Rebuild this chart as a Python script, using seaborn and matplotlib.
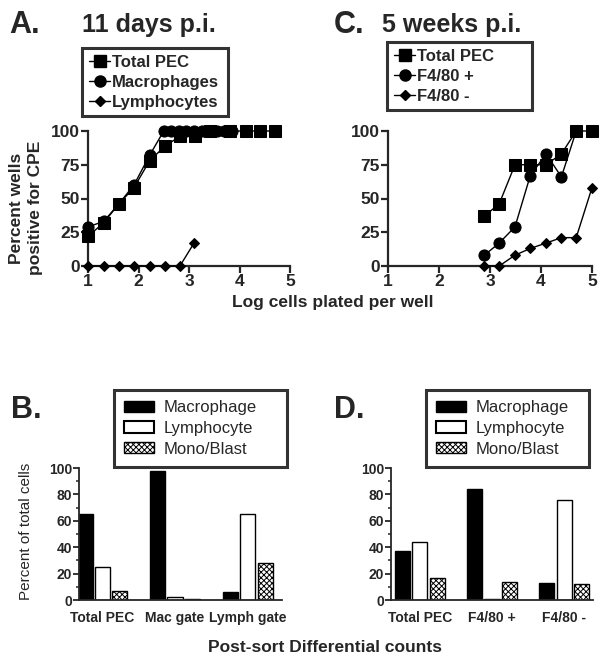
import numpy as np
import pandas as pd
import matplotlib
matplotlib.use("Agg")
import matplotlib.pyplot as plt
from matplotlib.lines import Line2D
from matplotlib.patches import Patch
import seaborn as sns

sns.set_style("ticks")
plt.rcParams["font.family"] = ["Liberation Sans", "DejaVu Sans"]
plt.rcParams["hatch.linewidth"] = 0.7

# ---------------- data ----------------
# Panel A: 11 days p.i.
a_pec_x = [1.0, 1.31, 1.61, 1.91, 2.22, 2.53, 2.82, 3.12, 3.41, 3.81, 4.12, 4.40, 4.70]
a_pec_y = [22, 32, 46, 58, 78, 89, 96, 96.5, 100, 100, 100, 100, 100]
a_mac_x = [1.0, 1.31, 1.61, 1.91, 2.22, 2.5, 2.65, 2.8, 2.95, 3.1, 3.25, 3.4, 3.55, 3.7, 3.85]
a_mac_y = [29, 33, 46, 60, 82, 100, 100, 100, 100, 100, 100, 100, 100, 100, 100]
a_lym_x = [1.0, 1.31, 1.61, 1.91, 2.22, 2.53, 2.82, 3.1]
a_lym_y = [0, 0, 0, 0, 0, 0, 0, 17]

# Panel C: 5 weeks p.i.
c_pec_x = [2.89, 3.18, 3.49, 3.79, 4.10, 4.40, 4.69, 5.0]
c_pec_y = [37, 46, 75, 75, 75, 83, 100, 100]
c_pos_x = [2.89, 3.18, 3.49, 3.79, 4.10, 4.40, 4.69]
c_pos_y = [8, 17, 29, 67, 83, 66, 100]
c_neg_x = [2.89, 3.18, 3.49, 3.79, 4.10, 4.40, 4.69, 5.0]
c_neg_y = [0, 0, 8, 13, 17, 21, 21, 58]

# Panels B and D: post-sort differential counts
cell_types = ["Macrophage", "Lymphocyte", "Mono/Blast"]
b_groups = ["Total PEC", "Mac gate", "Lymph gate"]
b_mac = [65, 98, 6]
b_lym = [25, 2, 65.5]
b_mono = [7, 1, 28]
d_groups = ["Total PEC", "F4/80 +", "F4/80 -"]
d_mac = [37, 84, 13]
d_lym = [44, 1, 75.5]
d_mono = [17, 13.5, 12.5]

W, H = 611, 664


def fx(px):
    return px / W


def fy(py):
    return 1 - py / H


fig = plt.figure(figsize=(W / 100, H / 100), dpi=100)


def line_panel(rect, series, labels, leg_box):
    ax = fig.add_axes(rect)
    markers = ["s", "o", "D"]
    sizes = [8, 8, 5.5]
    handles = []
    for (x, y), m, ms, lab in zip(series, markers, sizes, labels):
        sns.lineplot(x=x, y=y, ax=ax, color="black", lw=1.0, marker=m,
                     markersize=ms, markeredgecolor="black", sort=False,
                     clip_on=False, zorder=3)
        handles.append(Line2D([], [], color="black", lw=1.0, marker=m,
                              markersize=ms, label=lab))
    ax.set_xlim(1, 5)
    ax.set_ylim(0, 100)
    ax.set_xticks([1, 2, 3, 4, 5])
    ax.set_yticks([0, 25, 50, 75, 100])
    ax.set_xlabel("")
    ax.set_ylabel("")
    sns.despine(ax=ax)
    for s in ["left", "bottom"]:
        ax.spines[s].set_linewidth(1.6)
    ax.tick_params(width=1.6, length=5, labelsize=12.5, pad=1)
    for t in ax.get_xticklabels() + ax.get_yticklabels():
        t.set_fontweight("bold")
    x0, y0, x1, y1 = leg_box
    leg = ax.legend(handles=handles, loc="upper left", mode="expand",
                    bbox_to_anchor=(fx(x0), fy(y1), (x1 - x0) / W, (y1 - y0) / H),
                    bbox_transform=fig.transFigure, borderaxespad=0,
                    frameon=True, fancybox=False, handlelength=1.3,
                    handletextpad=0.1, labelspacing=0.3, borderpad=0.4,
                    prop={"size": 12, "weight": "bold"})
    leg.get_frame().set_edgecolor("black")
    leg.get_frame().set_linewidth(2.2)
    return ax


def bar_panel(rect, groups, mac, lym, mono, xlim, leg_box):
    ax = fig.add_axes(rect)
    df = pd.DataFrame({
        "group": groups * 3,
        "cell": [c for c in cell_types for _ in groups],
        "value": mac + lym + mono,
    })
    sns.barplot(data=df, x="group", y="value", hue="cell", order=groups,
                hue_order=cell_types, palette=["black", "white", "white"],
                edgecolor="black", linewidth=1.0, width=0.72, gap=0.12,
                legend=False, ax=ax)
    n = len(groups)
    for i, p in enumerate(ax.patches):
        if i // n == 2:
            p.set_hatch("xxxxxx")
    ax.set_xlim(*xlim)
    ax.set_ylim(0, 100)
    ax.set_yticks([0, 20, 40, 60, 80, 100])
    ax.set_yticks(np.arange(10, 100, 20), minor=True)
    ax.set_xlabel("")
    ax.set_ylabel("")
    sns.despine(ax=ax)
    for s in ["left", "bottom"]:
        ax.spines[s].set_linewidth(1.3)
    ax.tick_params(axis="y", which="major", width=1.3, length=4,
                   labelsize=10, pad=1)
    ax.tick_params(axis="y", which="minor", width=1.1, length=2.5)
    ax.tick_params(axis="x", length=0, labelsize=10, pad=8)
    for t in ax.get_xticklabels() + ax.get_yticklabels():
        t.set_fontweight("bold")
    handles = [Patch(facecolor="black", edgecolor="black", label=cell_types[0]),
               Patch(facecolor="white", edgecolor="black", lw=1.5, label=cell_types[1]),
               Patch(facecolor="white", edgecolor="black", hatch="xxxxxx",
                     label=cell_types[2])]
    x0, y0, x1, y1 = leg_box
    leg = ax.legend(handles=handles, loc="upper left", mode="expand",
                    bbox_to_anchor=(fx(x0), fy(y1), (x1 - x0) / W, (y1 - y0) / H),
                    bbox_transform=fig.transFigure, borderaxespad=0,
                    frameon=True, fancybox=False, handlelength=1.8,
                    handleheight=0.65, handletextpad=0.6,
                    labelspacing=0.35, borderpad=0.6,
                    prop={"size": 12})
    leg.get_frame().set_edgecolor("black")
    leg.get_frame().set_linewidth(2.2)
    return ax


axA = line_panel([fx(88), fy(266), 202 / W, 135 / H],
                 [(a_pec_x, a_pec_y), (a_mac_x, a_mac_y), (a_lym_x, a_lym_y)],
                 ["Total PEC", "Macrophages", "Lymphocytes"], (82, 48, 228, 117))
axC = line_panel([fx(388), fy(266), 204 / W, 135 / H],
                 [(c_pec_x, c_pec_y), (c_pos_x, c_pos_y), (c_neg_x, c_neg_y)],
                 ["Total PEC", "F4/80 +", "F4/80 -"], (387, 42, 532, 112))

axB = bar_panel([fx(79), fy(600), 203 / W, 132 / H], b_groups,
                b_mac, b_lym, b_mono, (-0.32, 2.47), (114, 390, 287, 462))
axD = bar_panel([fx(391), fy(600), 202 / W, 132 / H], d_groups,
                d_mac, d_lym, d_mono, (-0.40, 2.40), (426, 390, 589, 462))

# panel letters and titles
fig.text(fx(9), fy(33), "A.", fontsize=22, fontweight="bold", va="baseline")
fig.text(fx(82), fy(32), "11 days p.i.", fontsize=18, fontweight="bold", va="baseline")
fig.text(fx(334), fy(33), "C.", fontsize=22, fontweight="bold", va="baseline")
fig.text(fx(382), fy(32), "5 weeks p.i.", fontsize=18, fontweight="bold", va="baseline")
fig.text(fx(11), fy(418), "B.", fontsize=22, fontweight="bold", va="baseline")
fig.text(fx(334), fy(418), "D.", fontsize=22, fontweight="bold", va="baseline")

# axis labels
fig.text(fx(26), fy(208), "Percent wells\npositive for CPE", rotation=90,
         fontsize=12.5, fontweight="bold", ha="center", va="center",
         linespacing=1.35)
fig.text(fx(333), fy(302), "Log cells plated per well", fontsize=12.5,
         fontweight="bold", ha="center", va="center")
fig.text(fx(26), fy(531), "Percent of total cells", rotation=90,
         fontsize=11, ha="center", va="center")
fig.text(fx(325), fy(648), "Post-sort Differential counts", fontsize=12.5,
         fontweight="bold", ha="center", va="center")

fig.savefig("out.png", dpi=100)
